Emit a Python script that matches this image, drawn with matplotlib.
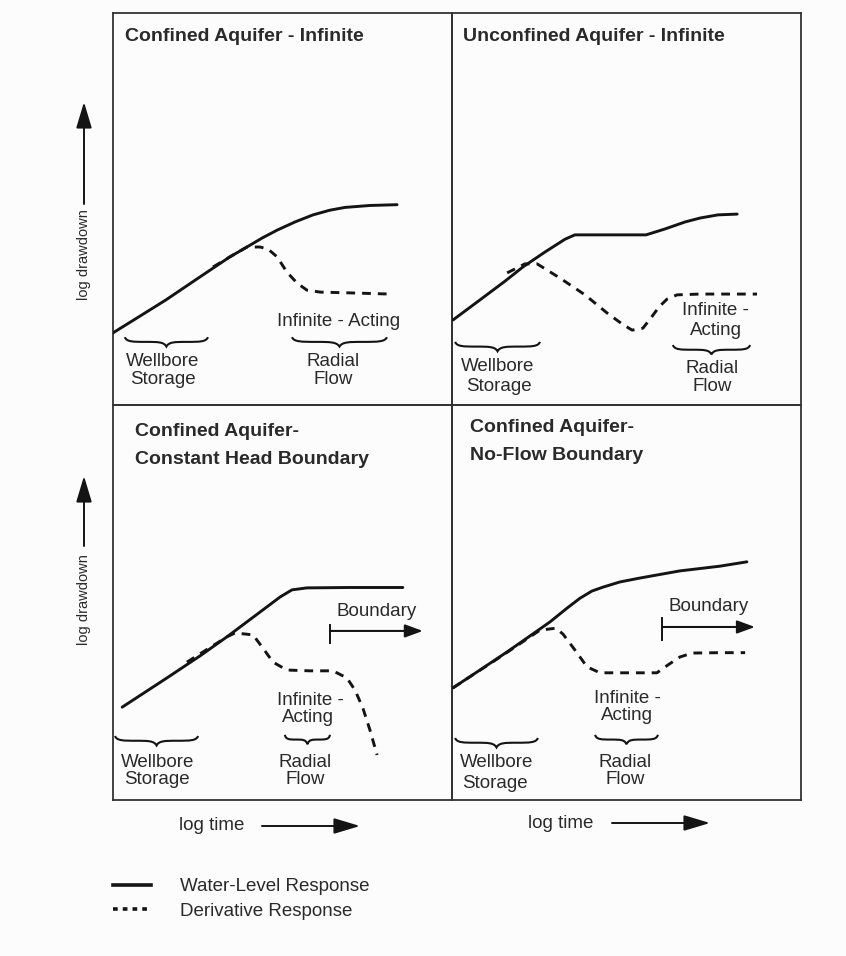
import matplotlib
matplotlib.use("Agg")
import matplotlib.pyplot as plt
from matplotlib.path import Path
from matplotlib.patches import PathPatch, FancyArrowPatch

plt.rcParams["font.family"] = ["Liberation Sans", "DejaVu Sans"]

W_PX, H_PX = 846, 956
INK = "#141414"
TXT = "#2a2a2a"

# x = log time, y = log drawdown, both in 0..100 schematic units per panel
ci_solid_x = [0, 8.0, 15.6, 25.7, 34.5, 39.5, 44.0, 48.4, 53.7, 59.0, 64.0, 68.4, 75.8, 83.8]
ci_solid_y = [18.4, 22.7, 26.8, 32.7, 37.8, 40.3, 42.6, 44.6, 46.7, 48.5, 49.7, 50.4, 50.9, 51.1]
ci_deriv_x = [29.5, 34.5, 39.5, 43.4, 45.7, 48.4, 51.3, 54.3, 57.2, 61.1, 69.9, 81.7]
ci_deriv_y = [35.2, 37.8, 40.3, 40.3, 39.8, 37.8, 33.9, 31.1, 29.3, 28.8, 28.6, 28.3]

ui_solid_x = [0.3, 8.0, 15.2, 20.3, 26.6, 32.4, 35.2, 42.4, 55.6, 61.0, 66.8, 71.1, 76.2, 81.7]
ui_solid_y = [21.7, 26.8, 31.6, 35.2, 39.0, 42.3, 43.4, 43.4, 43.4, 44.9, 46.7, 47.7, 48.5, 48.7]
ui_deriv_x = [15.8, 20.9, 24.4, 30.9, 38.1, 44.4, 48.7, 51.6, 54.7, 57.0, 59.3, 61.6, 64.5, 71.1, 87.4]
ui_deriv_y = [33.7, 36.0, 36.0, 32.4, 28.1, 23.5, 20.7, 19.1, 19.6, 22.2, 25.0, 27.0, 28.1, 28.3, 28.3]

ch_solid_x = [2.7, 15.9, 25.7, 33.6, 43.4, 49.3, 52.8, 57.2, 69.9, 85.5]
ch_solid_y = [23.5, 30.9, 36.5, 41.3, 47.6, 51.4, 53.2, 53.7, 53.8, 53.8]
ch_deriv_x = [21.8, 33.6, 36.0, 41.3, 44.2, 47.2, 51.3, 58.1, 64.9, 69.0, 71.4, 73.7, 75.8, 77.9]
ch_deriv_y = [34.9, 41.3, 42.3, 41.8, 38.5, 34.9, 32.9, 32.7, 32.7, 30.9, 27.8, 23.3, 17.7, 11.4]

nf_solid_x = [0.3, 8.0, 15.8, 22.3, 28.1, 33.0, 36.7, 40.1, 43.3, 48.1, 53.9, 65.3, 76.8, 84.5]
nf_solid_y = [28.4, 32.9, 37.5, 41.5, 45.1, 48.6, 51.1, 52.9, 53.9, 55.2, 56.2, 58.0, 59.2, 60.3]
nf_deriv_x = [0.3, 13.8, 25.2, 29.8, 31.8, 35.2, 38.7, 42.4, 49.6, 58.7, 61.9, 65.3, 68.8, 76.8, 84.0]
nf_deriv_y = [28.4, 36.2, 43.0, 43.5, 42.0, 38.0, 33.7, 32.2, 32.2, 32.2, 34.2, 36.2, 37.2, 37.3, 37.3]

titles = [
    ["Confined Aquifer - Infinite"],
    ["Unconfined Aquifer - Infinite"],
    ["Confined Aquifer-", "Constant Head Boundary"],
    ["Confined Aquifer-", "No-Flow Boundary"],
]
legend_labels = ["Water-Level Response", "Derivative Response"]

DASH = (0, (3.0, 2.4))
LAB = 13.5


def brace(ax, x0, x1, ytop, h=2.4):
    xm = (x0 + x1) / 2
    w = x1 - x0
    ym = ytop - h * 0.5
    yt = ytop - h
    verts = [
        (x0, ytop),
        (x0 + 0.02 * w, ym), (x0 + 0.10 * w, ym), (x0 + 0.25 * w, ym),
        (x0 + 0.40 * w, ym), (xm - 0.03 * w, ym), (xm, yt),
        (xm + 0.03 * w, ym), (x1 - 0.40 * w, ym), (x1 - 0.25 * w, ym),
        (x1 - 0.10 * w, ym), (x1 - 0.02 * w, ym), (x1, ytop),
    ]
    codes = [Path.MOVETO] + [Path.CURVE4] * 12
    ax.add_patch(PathPatch(Path(verts, codes), fc="none", ec=INK, lw=1.5))


def boundary(ax, x0, x1, y, ylo, yhi, tx, ty):
    ax.plot([x0, x0], [ylo, yhi], color=INK, lw=1.4)
    ax.annotate("", xy=(x1, y), xytext=(x0, y),
                arrowprops=dict(arrowstyle="-|>,head_length=0.6,head_width=0.22",
                                lw=1.5, color=INK, mutation_scale=18,
                                shrinkA=0, shrinkB=0))
    ax.text(tx, ty, "Boundary", ha="center", va="center", fontsize=LAB, color=TXT)


def label(ax, x, y, s):
    ax.text(x, y, s, ha="center", va="center", fontsize=LAB, color=TXT)


fig = plt.figure(figsize=(W_PX / 100, H_PX / 100), dpi=100)
fig.patch.set_facecolor("#fcfcfc")


def panel(L, R, T, B):
    ax = fig.add_axes([L / W_PX, 1 - B / H_PX, (R - L) / W_PX, (B - T) / H_PX])
    ax.set_xlim(0, 100)
    ax.set_ylim(0, 100)
    ax.set_xticks([])
    ax.set_yticks([])
    ax.set_facecolor("none")
    for sp in ax.spines.values():
        sp.set_linewidth(1.3)
        sp.set_color("#333333")
    return ax


axs = [panel(113, 452, 13, 405), panel(452, 801, 13, 405),
       panel(113, 452, 405, 800), panel(452, 801, 405, 800)]

curves = [
    (ci_solid_x, ci_solid_y, ci_deriv_x, ci_deriv_y),
    (ui_solid_x, ui_solid_y, ui_deriv_x, ui_deriv_y),
    (ch_solid_x, ch_solid_y, ch_deriv_x, ch_deriv_y),
    (nf_solid_x, nf_solid_y, nf_deriv_x, nf_deriv_y),
]
for ax, (sx, sy, dx, dy) in zip(axs, curves):
    ax.plot(sx, sy, color=INK, lw=2.1, solid_capstyle="round", solid_joinstyle="round", zorder=3)
    ax.plot(dx, dy, color=INK, lw=2.1, linestyle=DASH, dash_capstyle="butt", zorder=4)

# titles
title_pos = [(3.5, [93.9]), (3.2, [93.9]), (6.5, [93.2, 86.1]), (5.2, [94.2, 87.3])]
for ax, lines, (tx, tys) in zip(axs, titles, title_pos):
    for s, ty in zip(lines, tys):
        ax.text(tx, ty, s, ha="left", va="center", fontsize=14, fontweight="bold", color=TXT)

# panel 1
ax = axs[0]
label(ax, 66.4, 21.2, "Infinite - Acting")
label(ax, 64.9, 11.2, "Radial")
label(ax, 64.9, 6.6, "Flow")
label(ax, 14.5, 11.0, "Wellbore")
label(ax, 14.7, 6.4, "Storage")
brace(ax, 3.5, 28.0, 17.3)
brace(ax, 52.8, 80.8, 17.3)

# panel 2
ax = axs[1]
label(ax, 75.4, 24.2, "Infinite -")
label(ax, 75.6, 19.1, "Acting")
label(ax, 74.5, 9.4, "Radial")
label(ax, 74.5, 4.6, "Flow")
label(ax, 13.2, 9.7, "Wellbore")
label(ax, 13.5, 4.8, "Storage")
brace(ax, 0.9, 25.2, 16.1)
brace(ax, 63.3, 85.4, 15.3)

# panel 3
ax = axs[2]
boundary(ax, 64.0, 91.4, 42.8, 39.7, 44.3, 77.9, 47.6)
label(ax, 58.1, 25.3, "Infinite -")
label(ax, 57.5, 20.8, "Acting")
label(ax, 56.6, 9.6, "Radial")
label(ax, 56.6, 5.1, "Flow")
label(ax, 13.1, 9.6, "Wellbore")
label(ax, 13.1, 5.1, "Storage")
brace(ax, 0.6, 25.1, 16.2)
brace(ax, 50.7, 64.0, 16.5)

# panel 4
ax = axs[3]
boundary(ax, 60.2, 86.8, 43.8, 40.5, 46.1, 73.6, 48.9)
label(ax, 50.4, 25.8, "Infinite -")
label(ax, 50.1, 21.3, "Acting")
label(ax, 49.6, 9.6, "Radial")
label(ax, 49.6, 5.1, "Flow")
label(ax, 12.9, 9.4, "Wellbore")
label(ax, 12.3, 4.3, "Storage")
brace(ax, 0.9, 24.6, 15.7)
brace(ax, 41.0, 59.0, 16.5)


# outer axis labels with arrows (figure pixel positions, y from top)
def fx(px):
    return px / W_PX


def fy(py):
    return 1 - py / H_PX


def fig_arrow(x0, y0, x1, y1):
    fig.add_artist(FancyArrowPatch(
        (fx(x0), fy(y0)), (fx(x1), fy(y1)), transform=fig.transFigure,
        arrowstyle="-|>,head_length=0.8,head_width=0.24", mutation_scale=20,
        lw=1.4, color=INK, shrinkA=0, shrinkB=0))


for cy, y_tail, y_tip in [(255, 204, 102), (600, 546, 476)]:
    fig.text(fx(84), fy(cy), "log drawdown", rotation=90, ha="center", va="center",
             fontsize=10.5, color=TXT)
    fig_arrow(84, y_tail, 84, y_tip)

for cx, cy, x0, x1 in [(212, 826, 262, 360), (561, 823, 612, 710)]:
    fig.text(fx(cx), fy(cy), "log time", ha="center", va="center", fontsize=LAB, color=TXT)
    fig_arrow(x0, cy, x1, cy)

h_solid, = axs[0].plot([], [], color=INK, lw=2.6)
h_dash, = axs[0].plot([], [], color=INK, lw=2.6, linestyle=(0, (1.3, 1.4)))
fig.legend([h_solid, h_dash], legend_labels,
           loc="upper left", bbox_to_anchor=(fx(113), fy(878)), frameon=False,
           fontsize=LAB, handlelength=2.0, handletextpad=1.6, labelspacing=0.4,
           borderpad=0, borderaxespad=0, labelcolor=TXT)

fig.savefig("out.png", dpi=100, facecolor=fig.get_facecolor())
